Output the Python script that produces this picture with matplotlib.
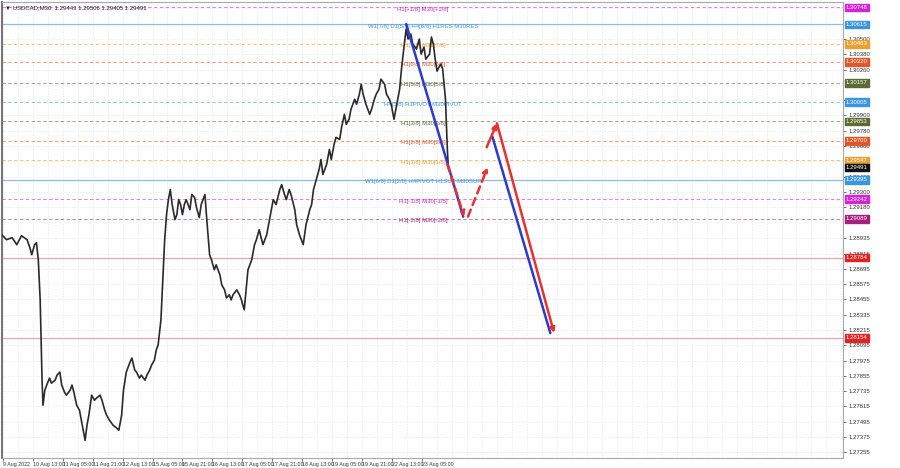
import matplotlib
matplotlib.use("Agg")
import matplotlib.pyplot as plt
import matplotlib.transforms as mtransforms

# ---------------- data ----------------
bars = [0, 5, 11, 16, 21, 27, 30, 32, 35, 37,
        39, 41, 42, 43, 44, 46, 48, 51, 53, 57,
        59, 62, 64, 67, 69, 73, 75, 77, 80, 83,
        85, 89, 91, 93, 96, 99, 101, 105, 107, 110,
        112, 115, 119, 123, 125, 128, 130, 133, 137, 139,
        142, 144, 147, 149, 153, 155, 158, 160, 163, 165,
        167, 170, 172, 174, 176, 178, 180, 182, 185, 187,
        189, 191, 193, 195, 197, 201, 203, 206, 208, 211,
        213, 217, 219, 222, 224, 227, 229, 233, 235, 238,
        240, 243, 245, 247, 251, 254, 256, 259, 261, 263,
        267, 270, 272, 275, 277, 279, 283, 286, 288, 290,
        293, 297, 299, 302, 304, 307, 309, 313, 315, 318,
        320, 322, 325, 329, 331, 333, 336, 339, 341, 343,
        347, 350, 352, 355, 357, 361, 363, 366, 368, 371,
        373, 377, 379, 382, 384, 386, 389, 393, 395, 398,
        400, 403, 405, 409, 411, 414, 416, 419, 421, 425,
        427, 430, 432, 434, 437, 439, 443, 446, 448, 451,
        453, 457, 459, 461, 463, 465, 467, 469, 471, 474,
        476, 477]

closes = [1.28963, 1.28924, 1.28940, 1.28885, 1.28955, 1.28924, 1.28861, 1.28806, 1.28885, 1.28900,
          1.28766, 1.28451, 1.28136, 1.27821, 1.27624, 1.27742, 1.27782, 1.27837, 1.27797, 1.27821,
          1.27860, 1.27884, 1.27782, 1.27726, 1.27703, 1.27742, 1.27782, 1.27726, 1.27624, 1.27584,
          1.27506, 1.27348, 1.27466, 1.27545, 1.27703, 1.27663, 1.27679, 1.27703, 1.27663, 1.27584,
          1.27545, 1.27506, 1.27466, 1.27443, 1.27427, 1.27545, 1.27742, 1.27884, 1.27963, 1.27994,
          1.27900, 1.27884, 1.27837, 1.27860, 1.27821, 1.27860, 1.27900, 1.27939, 1.27978, 1.28057,
          1.28097, 1.28294, 1.28609, 1.28924, 1.29121, 1.29239, 1.29318, 1.29200, 1.29082, 1.29121,
          1.29239, 1.29200, 1.29121, 1.29200, 1.29239, 1.29160, 1.29279, 1.29255, 1.29176, 1.29097,
          1.29200, 1.29279, 1.29082, 1.28806, 1.28766, 1.28688, 1.28727, 1.28648, 1.28569, 1.28530,
          1.28467, 1.28491, 1.28451, 1.28491, 1.28530, 1.28491, 1.28451, 1.28373, 1.28530, 1.28688,
          1.28766, 1.28885, 1.28924, 1.29003, 1.28940, 1.28885, 1.28963, 1.29082, 1.29160, 1.29239,
          1.29200, 1.29318, 1.29357, 1.29279, 1.29239, 1.29318, 1.29279, 1.29160, 1.29042, 1.28963,
          1.28924, 1.28885, 1.29042, 1.29160, 1.29200, 1.29318, 1.29397, 1.29476, 1.29554, 1.29436,
          1.29515, 1.29633, 1.29554, 1.29673, 1.29728, 1.29712, 1.29807, 1.29909, 1.29830, 1.29870,
          1.29948, 1.30027, 1.29988, 1.30067, 1.30145, 1.30067, 1.29988, 1.29909, 1.29948, 1.30027,
          1.30067, 1.30106, 1.30185, 1.30145, 1.30067, 1.30027, 1.29988, 1.29870, 1.29948, 1.30106,
          1.30264, 1.30461, 1.30579, 1.30500, 1.30539, 1.30461, 1.30421, 1.30500, 1.30382, 1.30437,
          1.30342, 1.30382, 1.30516, 1.30461, 1.30342, 1.30248, 1.30279, 1.30303, 1.30264, 1.30027,
          1.29633, 1.29491]

level_prices = [1.30748, 1.30615, 1.30463, 1.30320, 1.30157, 1.30005,
                1.29853, 1.29700, 1.29547, 1.29395, 1.29242, 1.29089]
level_labels = ["H1[+1/8] M30[+1/8]",
                "W1[7/8] D1[5/8] H4[8/8] H1RES M30RES",
                "H1[7/8] M30[7/8]",
                "H1[6/8] M30[6/8]",
                "H1[5/8] M30[5/8]",
                "H4[5/8] H1PIVOT M30PIVOT",
                "H1[3/8] M30[3/8]",
                "H1[2/8] M30[2/8]",
                "H1[1/8] M30[1/8]",
                "W1[6/8] D1[2/8] H4PIVOT H1SUP M30SUP",
                "H1[-1/8] M30[-1/8]",
                "H1[-2/8] M30[-2/8]"]
level_colors = ["#d424d4", "#3c96dc", "#e8a030", "#e0582a", "#5a6b34", "#3c96dc",
                "#5a6b34", "#e0582a", "#e8a030", "#3c96dc", "#d424d4", "#a4207e"]
level_solid = [False, True, False, False, False, False,
               False, False, False, True, False, False]

red_levels = [1.28784, 1.28154]
current_price = 1.29491

# visible price-scale labels (those hidden under tags are left out)
ytick_values = [1.30500, 1.30380, 1.30260, 1.30020, 1.29900,
                1.29780, 1.29660, 1.29420, 1.29300, 1.29180, 1.28935,
                1.28815, 1.28695, 1.28575, 1.28455, 1.28335, 1.28215, 1.28095, 1.27975,
                1.27855, 1.27735, 1.27615, 1.27495, 1.27375, 1.27255]
grid_values = [1.30740, 1.30620, 1.30500, 1.30380, 1.30260, 1.30140, 1.30020, 1.29900,
               1.29780, 1.29660, 1.29540, 1.29420, 1.29300, 1.29180, 1.29060, 1.28935,
               1.28815, 1.28695, 1.28575, 1.28455, 1.28335, 1.28215, 1.28095, 1.27975,
               1.27855, 1.27735, 1.27615, 1.27495, 1.27375, 1.27255]

xtick_bars = [1, 33, 65, 97, 129, 161, 193, 225, 257, 289, 321, 353, 385, 417, 449]
xtick_labels = ["9 Aug 2022", "10 Aug 13:00", "11 Aug 05:00", "11 Aug 21:00", "12 Aug 13:00",
                "15 Aug 05:00", "15 Aug 21:00", "16 Aug 13:00", "17 Aug 05:00", "17 Aug 21:00",
                "18 Aug 13:00", "19 Aug 05:00", "19 Aug 21:00", "22 Aug 13:00", "23 Aug 05:00"]

# forecast sketch segments (bar, price)
blue_seg1_x = [432, 493]
blue_seg1_y = [1.30618, 1.29105]
blue_seg2_x = [524, 586]
blue_seg2_y = [1.29736, 1.28191]
red_dash1_x = [476, 494]
red_dash1_y = [1.29515, 1.29105]
red_dash2_x = [498, 519]
red_dash2_y = [1.29105, 1.29491]
red_up_x = [518, 529]
red_up_y = [1.29650, 1.29838]
red_down_x = [529, 590]
red_down_y = [1.29838, 1.28191]

title_text = "USDCAD,M30  1.29443 1.29506 1.29405 1.29491"

# ---------------- figure ----------------
plt.rcParams['font.family'] = ['Liberation Sans', 'DejaVu Sans']
FS = 4.3
fig = plt.figure(figsize=(9, 4.68), dpi=100)
fig.patch.set_facecolor("white")
ax = fig.add_axes([0.002, 0.021, 0.935, 0.975])
ax.set_xlim(0, 899)
ax.set_ylim(1.27208, 1.30792)

# grid
for xb in range(1, 900, 16):
    ax.axvline(xb, color="#e6e6e6", lw=0.5, ls=(0, (2, 2)), zorder=0)
for yv in grid_values:
    ax.axhline(yv, color="#e6e6e6", lw=0.5, ls=(0, (2, 2)), zorder=0)

# levels
for p, c, solid in zip(level_prices, level_colors, level_solid):
    if solid:
        ax.axhline(p, color="#8cbcea", lw=0.9, zorder=1)
    else:
        ax.axhline(p, color=c, lw=0.6, ls=(0, (4, 3)), alpha=0.7, zorder=1)
for p in red_levels:
    ax.axhline(p, color="#f0a0a0", lw=0.8, zorder=1)

# level labels (drawn under the price line)
for p, lab, c in zip(level_prices, level_labels, level_colors):
    ax.annotate(lab, xy=(450, p), xytext=(0, -1.5), textcoords="offset points",
                color=c, fontsize=FS, ha="center", va="center", zorder=2)

# price
ax.plot(bars, closes, color="#2a2a2a", lw=1.2, zorder=3)

# forecast arrows
def seg(xs, ys, color, ls="-", arrow=True):
    ax.annotate("", xy=(xs[1], ys[1]), xytext=(xs[0], ys[0]),
                arrowprops=dict(arrowstyle="-|>" if arrow else "-", color=color, lw=1.8,
                                linestyle=ls, mutation_scale=7, shrinkA=0, shrinkB=0),
                zorder=5)

seg(blue_seg1_x, blue_seg1_y, "#2c3ad2", arrow=False)
seg(blue_seg2_x, blue_seg2_y, "#2c3ad2", arrow=False)
seg(red_dash1_x, red_dash1_y, "#e83030", ls=(0, (3, 2)))
seg(red_dash2_x, red_dash2_y, "#e83030", ls=(0, (3, 2)))
seg(red_up_x, red_up_y, "#e83030")
seg(red_down_x, red_down_y, "#e83030")

# axes styling
ax.yaxis.tick_right()
ax.set_yticks(ytick_values)
ax.set_yticklabels([f"{v:.5f}" for v in ytick_values])
ax.set_xticks(xtick_bars)
ax.set_xticklabels(xtick_labels)
ax.tick_params(axis="y", labelsize=FS, colors="#333333", length=2, width=0.5, pad=2)
ax.tick_params(axis="x", labelsize=3.8, colors="#333333", length=2, width=0.5, pad=1)
for lbl in ax.get_xticklabels():
    lbl.set_ha("left")
for s in ax.spines.values():
    s.set_color("#a8a8a8")
    s.set_linewidth(0.8)
ax.spines["left"].set_color("#777777")
ax.spines["left"].set_linewidth(1.5)

# price tags on right axis
trans = mtransforms.blended_transform_factory(ax.transAxes, ax.transData)
tag_prices = level_prices + [current_price] + red_levels
tag_colors = level_colors + ["#111111", "#e02424", "#e02424"]
for p, c in zip(tag_prices, tag_colors):
    ax.text(1.003, p, f"{p:.5f}", transform=trans, fontsize=FS, color="white",
            ha="left", va="center", zorder=6, clip_on=False,
            bbox=dict(boxstyle="square,pad=0.22", fc=c, ec=c))

# title
ax.text(0.004, 0.992, "\u25bc " + title_text, transform=ax.transAxes, fontsize=FS,
        color="#222222", ha="left", va="top", zorder=6)

fig.savefig("out.png", dpi=100, facecolor="white")
